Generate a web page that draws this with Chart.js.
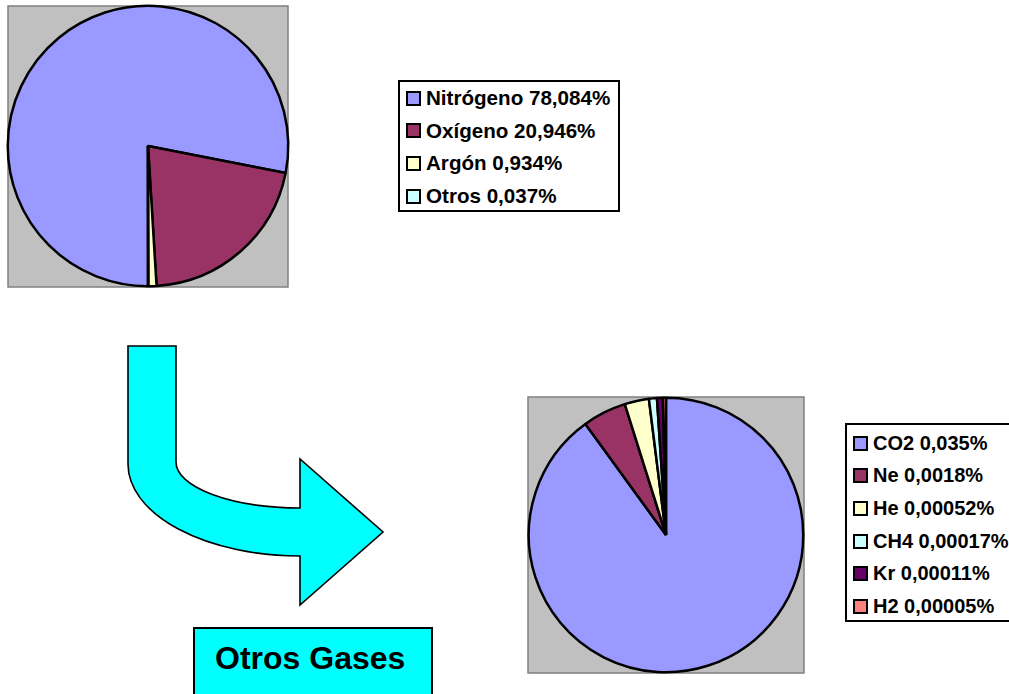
<!DOCTYPE html>
<html>
<head>
<meta charset="utf-8">
<script src="https://cdn.jsdelivr.net/npm/chart.js@4.4.1/dist/chart.umd.min.js"></script>
<style>
  html, body { margin: 0; padding: 0; background: #fff; }
  #page { position: relative; width: 1009px; height: 694px; overflow: hidden; font-family: 'Liberation Sans', Arial, sans-serif; }
  canvas { position: absolute; }
  .legend { position: absolute; border: 2px solid #000; background: #fff; box-sizing: border-box; }
  .row { position: absolute; left: 6px; height: 32.6px; display: flex; align-items: center; white-space: nowrap;
         font-weight: bold; font-size: 20px; color: #000; }
  #airLegend .row { font-size: 20.6px; }
  .sw { width: 11px; height: 11px; border: 2px solid #000; margin-right: 5px; flex: none; }
  #box { position: absolute; left: 193px; top: 627px; width: 240px; height: 80px; background: #00ffff;
         border: 2px solid #000; box-sizing: border-box; }
  #box span { position: absolute; left: 20px; top: 11px; font-weight: bold; font-size: 32px; }
</style>
</head>
<body>
<div id="page">
  <canvas id="airChart" width="300" height="300" style="left:0;top:0"></canvas>
  <canvas id="otherChart" width="300" height="300" style="left:520px;top:390px"></canvas>
  <div class="legend" id="airLegend" style="left:398px;top:80px;width:222px;height:132px"></div>
  <div class="legend" id="otherLegend" style="left:845px;top:423px;width:200px;height:199px"></div>
  <svg width="1009" height="694" style="position:absolute;left:0;top:0">
    <path d="M128,346 L176,346 L176,462 A124,46 0 0 0 300,508 L300,459 L383,532 L300,605 L300,556 A172,92 0 0 1 128,464 Z"
          fill="#00ffff" stroke="#000" stroke-width="1.6"/>
  </svg>
  <div id="box"><span>Otros Gases</span></div>
</div>
<script>
// composition of dry air (%)
const airLabels = ['Nitrógeno 78,084%', 'Oxígeno 20,946%', 'Argón 0,934%', 'Otros 0,037%'];
const airValues = [78.084, 20.946, 0.934, 0.037];
const airColors = ['#9999ff', '#993366', '#ffffcc', '#ccffff'];

// the "otros" slice broken down (shares as drawn in the original pie)
const otherLabels = ['CO2 0,035%', 'Ne 0,0018%', 'He 0,00052%', 'CH4 0,00017%', 'Kr 0,00011%', 'H2 0,00005%'];
const otherValues = [90.0, 5.14, 2.86, 0.94, 0.69, 0.36];
const otherColors = ['#9999ff', '#993366', '#ffffcc', '#ccffff', '#660066', '#ff8080'];

// grey plot area behind the pie, like the old spreadsheet charts
const plotBackground = {
    id: 'plotBackground',
    beforeDraw(chart, args, opts) {
        const {ctx, chartArea} = chart;
        const x = chartArea.left + opts.inset, y = chartArea.top + opts.inset;
        const w = chartArea.right - chartArea.left - 2 * opts.inset;
        const h = chartArea.bottom - chartArea.top - 2 * opts.inset + opts.extra;
        ctx.save();
        ctx.fillStyle = '#c0c0c0';
        ctx.fillRect(x, y, w, h);
        ctx.strokeStyle = '#808080';
        ctx.lineWidth = 1.5;
        ctx.strokeRect(x, y, w, h);
        ctx.restore();
    }
};

function makePie(id, values, colors, rotation, padding, bg) {
    return new Chart(document.getElementById(id), {
        type: 'pie',
        data: {
            datasets: [{
                data: values,
                backgroundColor: colors,
                borderColor: '#000',
                borderWidth: 2.5,
                hoverOffset: 0
            }]
        },
        options: {
            responsive: false,
            animation: false,
            rotation: rotation,
            layout: { padding: padding },
            events: [],
            plugins: {
                legend: { display: false },
                tooltip: { enabled: false },
                plotBackground: bg
            }
        },
        plugins: [plotBackground]
    });
}

function makeLegend(id, labels, colors, padTop) {
    const el = document.getElementById(id);
    labels.forEach((label, i) => {
        const row = document.createElement('div');
        row.className = 'row';
        row.style.top = (padTop + i * 32.6) + 'px';
        row.innerHTML = '<div class="sw" style="background:' + colors[i] + '"></div><span>' + label + '</span>';
        el.appendChild(row);
    });
}

makePie('airChart', airValues, airColors, 180, {left: 6.5, top: 4.5, right: 10.5, bottom: 12.5}, {inset: 1.5, extra: 1});
makePie('otherChart', otherValues, otherColors, 0, {left: 7.5, top: 6.5, right: 15.5, bottom: 16.5}, {inset: 0.5, extra: 0});

makeLegend('airLegend', airLabels, airColors, 0);
makeLegend('otherLegend', otherLabels, otherColors, 2);
</script>
</body>
</html>
